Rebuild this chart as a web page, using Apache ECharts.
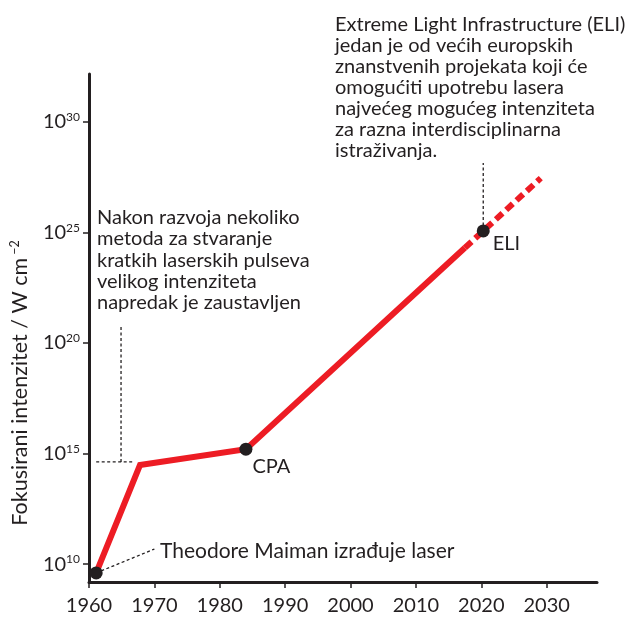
<!DOCTYPE html>
<html><head><meta charset="utf-8">
<script src="https://cdn.jsdelivr.net/npm/echarts@6/dist/echarts.min.js"></script>
<style>html,body{margin:0;padding:0;background:#fff}#c{width:628px;height:618px}</style>
</head><body><div id="c"></div>
<script>
// ---- data (years, log10 of focused intensity in W/cm^2) ----
const yearTicks = [1960, 1970, 1980, 1990, 2000, 2010, 2020, 2030];
const expTicks = [10, 15, 20, 25, 30];
const solidYears = [1961.1, 1967.8, 1984.0, 2017.5];
const solidExp = [9.6, 14.48, 15.2, 24.31];
const dashYears = [2017.5, 2029.1];
const dashExp = [24.31, 27.46];
const milestoneNames = ['Maiman', 'CPA', 'ELI'];
const milestoneYears = [1961.1, 1984.0, 2020.3];
const milestoneExp = [9.6, 15.2, 25.07];
// leader (dotted) lines
const maimanLeaderYears = [1961.1, 1970.0];
const maimanLeaderExp = [9.6, 10.68];
const plateauHYears = [1961.1, 1966.7];
const plateauHExp = [14.62, 14.62];
const plateauVYears = [1964.9, 1964.9];
const plateauVExp = [14.62, 20.72];
const eliLeaderYears = [2020.3, 2020.3];
const eliLeaderExp = [25.07, 28.14];

const INK = '#231f20';
const RED = '#ed1c24';
const FONT = 'Lato';
const zip = (a, b) => a.map((v, i) => [v, b[i]]);
const labelOffsets = {Maiman: [0, 0], CPA: [-5, 17], ELI: [-2, 13]};

const chart = echarts.init(document.getElementById('c'), null, {renderer: 'canvas'});
const leader = (xs, ys) => ({
  type: 'line', data: zip(xs, ys), symbol: 'none', silent: true, z: 1,
  lineStyle: {color: INK, width: 1.3, type: [3, 2.5]}
});
chart.setOption({
  animation: false,
  backgroundColor: '#fff',
  grid: {left: 89, right: 31, top: 74, bottom: 36, containLabel: false},
  xAxis: {
    type: 'value', min: 1960, max: 2037.7,
    axisLine: {show: true, lineStyle: {color: INK, width: 3}},
    axisTick: {show: true, customValues: yearTicks, length: 6, lineStyle: {color: INK, width: 1.5}},
    axisLabel: {customValues: yearTicks, color: INK, fontFamily: FONT, fontSize: 20, margin: 14,
      formatter: v => String(v)},
    splitLine: {show: false}
  },
  yAxis: {
    type: 'value', min: 9.19, max: 32.17,
    axisLine: {show: true, lineStyle: {color: INK, width: 3}},
    axisTick: {show: true, customValues: expTicks, length: 6, lineStyle: {color: INK, width: 1.5}},
    axisLabel: {
      customValues: expTicks, margin: 9,
      formatter: v => '{b|10}{s|' + v + '}',
      rich: {
        b: {color: INK, fontFamily: FONT, fontSize: 20},
        s: {color: INK, fontFamily: FONT, fontSize: 12, padding: [0, 0, 9, 0]}
      }
    },
    splitLine: {show: false}
  },
  series: [
    leader(maimanLeaderYears, maimanLeaderExp),
    leader(plateauHYears, plateauHExp),
    leader(plateauVYears, plateauVExp),
    leader(eliLeaderYears, eliLeaderExp),
    {type: 'line', data: zip(solidYears, solidExp), symbol: 'none', z: 2,
     lineStyle: {color: RED, width: 6, join: 'miter', cap: 'butt'}},
    {type: 'line', data: zip(dashYears, dashExp), symbol: 'none', z: 2,
     lineStyle: {color: RED, width: 6, type: [9, 5], cap: 'butt'}},
    {type: 'scatter', z: 3, symbolSize: 13, itemStyle: {color: INK, opacity: 1},
     data: milestoneNames.map((n, i) => ({
       name: n, value: [milestoneYears[i], milestoneExp[i]],
       label: {offset: labelOffsets[n]}
     })),
     label: {
       show: true, color: INK, fontFamily: FONT, fontSize: 20, position: 'right',
       formatter: p => p.name === 'Maiman' ? '' : p.name
     }}
  ],
  graphic: [
    {type: 'text', x: 20, y: 383, rotation: Math.PI / 2,
     style: {text: '{a|Fokusirani intenzitet / W cm}{s|−2}', textAlign: 'center', textVerticalAlign: 'middle',
       rich: {a: {fill: INK, fontFamily: FONT, fontSize: 21.5}, s: {fill: INK, fontFamily: FONT, fontSize: 12.5, padding: [0, 0, 10, 3]}}}},
    {type: 'text', x: 97, y: 207,
     style: {text: 'Nakon razvoja nekoliko\nmetoda za stvaranje\nkratkih laserskih pulseva\nvelikog intenziteta\nnapredak je zaustavljen',
       fill: INK, fontFamily: FONT, fontSize: 20, lineHeight: 21.3}},
    {type: 'text', x: 335, y: 14,
     style: {text: 'Extreme Light Infrastructure (ELI)\njedan je od većih europskih\nznanstvenih projekata koji će\nomogućiti upotrebu lasera\nnajvećeg mogućeg intenziteta\nza razna interdisciplinarna\nistraživanja.',
       fill: INK, fontFamily: FONT, fontSize: 20, lineHeight: 21}},
    {type: 'text', x: 160, y: 551,
     style: {text: 'Theodore Maiman izrađuje laser', fill: INK, fontFamily: FONT, fontSize: 21, textVerticalAlign: 'middle'}}
  ]
});
</script></body></html>
